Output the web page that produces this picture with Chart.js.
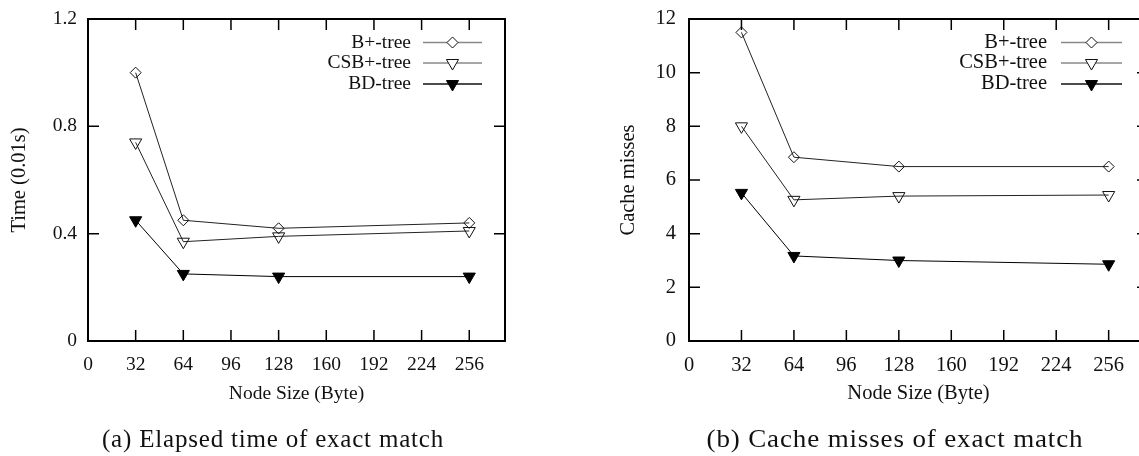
<!DOCTYPE html>
<html lang="en">
<head>
    <meta charset="UTF-8">
    <title>Exact match: time and cache misses</title>
    <script src="https://cdn.jsdelivr.net/npm/chart.js"></script>
    <style>
        html, body {
            margin: 0;
            padding: 0;
            background: #fff;
            overflow: hidden;
            width: 1139px;
            height: 456px;
        }
        .panel {
            position: absolute;
            top: 0;
        }
        .caption {
            position: absolute;
            top: 425px;
            font-family: "Liberation Serif", serif;
            font-size: 25px;
            letter-spacing: 0.8px;
            color: #111;
            white-space: nowrap;
            transform: translateX(-50%);
        }
    </style>
</head>
<body>
    <canvas id="timeChart" class="panel" style="left:0px" width="560" height="456"></canvas>
    <canvas id="missChart" class="panel" style="left:580px" width="580" height="456"></canvas>
    <div class="caption" style="left:273px">(a) Elapsed time of exact match</div>
    <div class="caption" style="left:895px; transform: translateX(-50%) scaleX(1.08)">(b) Cache misses of exact match</div>

    <script>
        // node sizes (Byte) and tick labels
        const nodeSizes = [32, 64, 128, 256];
        const xTicks = [0, 32, 64, 96, 128, 160, 192, 224, 256];

        // (a) elapsed time, 0.01s
        const timeBplus = [1.0, 0.45, 0.42, 0.44];
        const timeCsb = [0.74, 0.37, 0.39, 0.41];
        const timeBd = [0.45, 0.25, 0.24, 0.24];
        const timeTicks = [0, 0.4, 0.8, 1.2];

        // (b) cache misses
        const missBplus = [11.5, 6.85, 6.5, 6.5];
        const missCsb = [8.0, 5.26, 5.4, 5.44];
        const missBd = [5.52, 3.17, 3.0, 2.86];
        const missTicks = [0, 2, 4, 6, 8, 10, 12];

        const seriesNames = ['B+-tree', 'CSB+-tree', 'BD-tree'];
        const FAMILY = '"Liberation Serif", serif';

        function pts(ys) {
            return nodeSizes.map((x, i) => ({ x: x, y: ys[i] }));
        }

        function makeSets(a, b, c) {
            return [
                { label: seriesNames[0], data: pts(a), borderColor: '#222', borderWidth: 1,
                  pointStyle: 'rectRot', pointRadius: 5.5, pointBackgroundColor: 'rgba(0,0,0,0)',
                  pointBorderColor: '#111', pointBorderWidth: 1, legendLine: '#888', legendFill: '#fff' },
                { label: seriesNames[1], data: pts(b), borderColor: '#222', borderWidth: 1,
                  pointStyle: 'triangle', pointRotation: 180, pointRadius: 7, pointBackgroundColor: 'rgba(0,0,0,0)',
                  pointBorderColor: '#111', pointBorderWidth: 1, legendLine: '#888', legendFill: '#fff' },
                { label: seriesNames[2], data: pts(c), borderColor: '#000', borderWidth: 1,
                  pointStyle: 'triangle', pointRotation: 180, pointRadius: 7, pointBackgroundColor: '#000',
                  pointBorderColor: '#000', pointBorderWidth: 1, legendLine: '#111', legendFill: '#000' }
            ];
        }

        // gnuplot style frame with inward ticks on all four sides
        const frameTicks = {
            id: 'frameTicks',
            afterDatasetsDraw(chart) {
                const ctx = chart.ctx, a = chart.chartArea, len = 11;
                const xs = chart.scales.x, ys = chart.scales.y;
                ctx.save();
                ctx.strokeStyle = '#000';
                ctx.lineWidth = 1.5;
                ctx.beginPath();
                xs.ticks.forEach(t => {
                    const px = xs.getPixelForValue(t.value);
                    if (px <= a.left + 1 || px >= a.right - 1) return;
                    ctx.moveTo(px, a.bottom); ctx.lineTo(px, a.bottom - len);
                    ctx.moveTo(px, a.top); ctx.lineTo(px, a.top + len);
                });
                ys.ticks.forEach(t => {
                    const py = ys.getPixelForValue(t.value);
                    if (py <= a.top + 1 || py >= a.bottom - 1) return;
                    ctx.moveTo(a.left, py); ctx.lineTo(a.left + len, py);
                    ctx.moveTo(a.right, py); ctx.lineTo(a.right - len, py);
                });
                ctx.stroke();
                ctx.lineWidth = 2;
                ctx.strokeRect(a.left, a.top, a.right - a.left, a.bottom - a.top);
                ctx.restore();
            }
        };

        // key in the top right corner: label, then line with the marker on it
        const gpLegend = {
            id: 'gpLegend',
            afterDraw(chart, args, opts) {
                const ctx = chart.ctx, a = chart.chartArea;
                ctx.save();
                ctx.font = opts.size + 'px ' + FAMILY;
                ctx.textAlign = 'right';
                ctx.textBaseline = 'middle';
                chart.data.datasets.forEach((ds, i) => {
                    const y = a.top + opts.rows[i];
                    ctx.fillStyle = '#111';
                    ctx.fillText(ds.label, a.right + opts.textRight, y);
                    ctx.strokeStyle = ds.legendLine;
                    ctx.lineWidth = 1.5;
                    ctx.beginPath();
                    ctx.moveTo(a.right + opts.lineStart, y);
                    ctx.lineTo(a.right + opts.lineEnd, y);
                    ctx.stroke();
                    ctx.fillStyle = ds.legendFill;
                    ctx.strokeStyle = ds.pointBorderColor;
                    ctx.lineWidth = 1;
                    Chart.helpers.drawPoint(ctx, {
                        pointStyle: ds.pointStyle,
                        rotation: ds.pointRotation || 0,
                        radius: ds.pointRadius,
                        borderWidth: 1
                    }, a.right + (opts.lineStart + opts.lineEnd) / 2, y);
                });
                ctx.restore();
            }
        };

        function makeChart(id, sets, yTicks, yMax, yTitle, cfg) {
            const font = { family: FAMILY, size: cfg.fontSize };
            return new Chart(document.getElementById(id), {
                type: 'line',
                data: { datasets: sets },
                plugins: [frameTicks, gpLegend],
                options: {
                    responsive: false,
                    animation: false,
                    layout: { padding: { left: 0, right: cfg.padRight, top: 19, bottom: 46 } },
                    plugins: {
                        legend: { display: false },
                        tooltip: { enabled: false },
                        gpLegend: cfg.legend
                    },
                    scales: {
                        x: {
                            type: 'linear',
                            min: 0,
                            max: 280,
                            afterBuildTicks: s => { s.ticks = xTicks.map(v => ({ value: v })); },
                            afterFit: s => { s.height = 69; s.paddingLeft = 0; s.paddingRight = 0; },
                            grid: { display: false, drawTicks: false },
                            border: { display: false },
                            ticks: { color: '#111', font: font, padding: 12, maxRotation: 0 },
                            title: { display: true, text: 'Node Size (Byte)', color: '#111', font: font,
                                     padding: { top: 4, bottom: 4 } }
                        },
                        y: {
                            min: 0,
                            max: yMax,
                            afterBuildTicks: s => { s.ticks = yTicks.map(v => ({ value: v })); },
                            afterFit: s => { s.width = cfg.yWidth; s.paddingTop = 0; s.paddingBottom = 0; },
                            grid: { display: false, drawTicks: false },
                            border: { display: false },
                            ticks: { color: '#111', font: font, padding: cfg.yPad },
                            title: { display: true, text: yTitle, color: '#111',
                                     font: { family: FAMILY, size: 20.5 },
                                     padding: { top: cfg.yTitlePad, bottom: 0 } }
                        }
                    }
                }
            });
        }

        makeChart('timeChart', makeSets(timeBplus, timeCsb, timeBd), timeTicks, 1.2, 'Time (0.01s)', {
            fontSize: 19.5, padRight: 55, yWidth: 88, yPad: 11, yTitlePad: 7,
            legend: { size: 19.5, rows: [23.5, 44, 65], textRight: -94, lineStart: -82, lineEnd: -23 }
        });

        makeChart('missChart', makeSets(missBplus, missCsb, missBd), missTicks, 12, 'Cache misses', {
            fontSize: 20.5, padRight: 12, yWidth: 109, yPad: 13, yTitlePad: 36,
            legend: { size: 20.5, rows: [23.5, 44, 65], textRight: -101, lineStart: -87, lineEnd: -26 }
        });
    </script>
</body>
</html>
